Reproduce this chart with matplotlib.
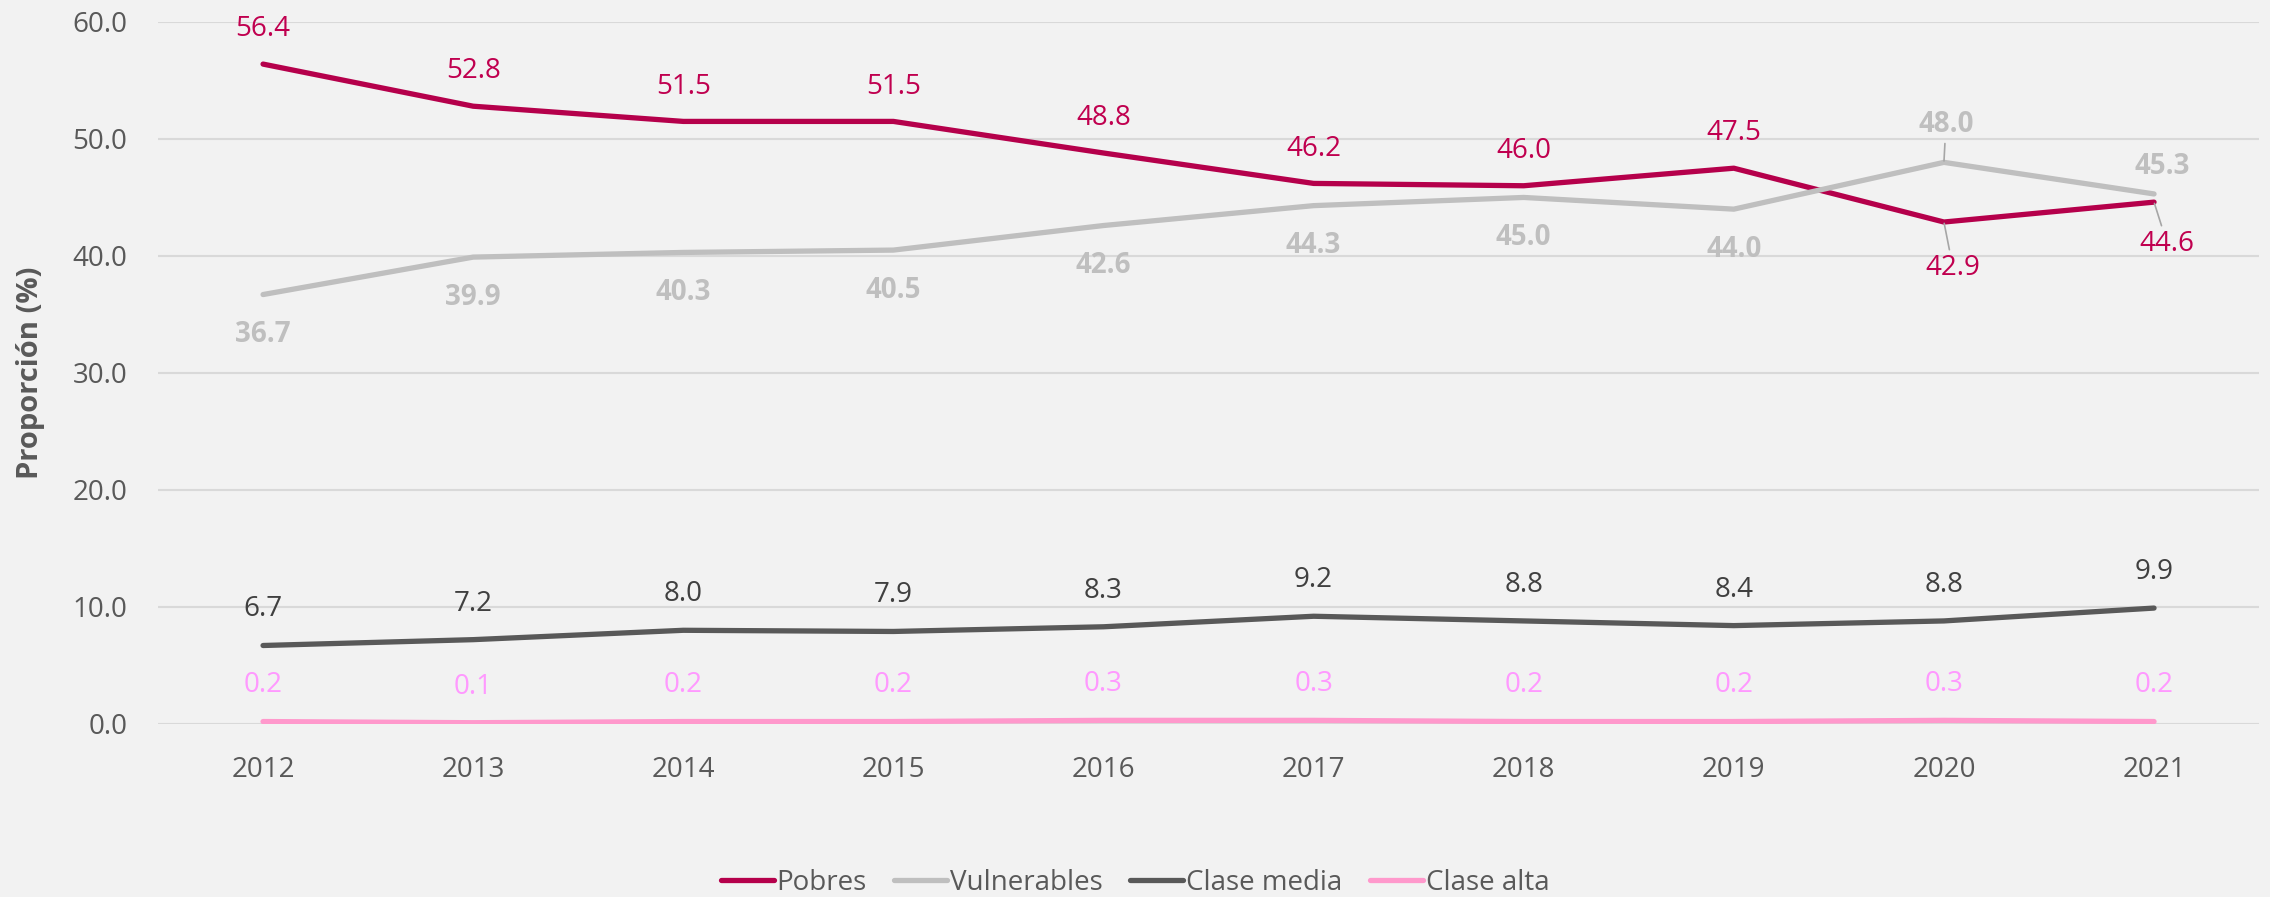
import numpy as np
import matplotlib
matplotlib.use("Agg")
import matplotlib.pyplot as plt

plt.rcParams['font.family'] = ['Open Sans', 'DejaVu Sans']

years = ['2012', '2013', '2014', '2015', '2016', '2017', '2018', '2019', '2020', '2021']
pobres = [56.4, 52.8, 51.5, 51.5, 48.8, 46.2, 46.0, 47.5, 42.9, 44.6]
vulnerables = [36.7, 39.9, 40.3, 40.5, 42.6, 44.3, 45.0, 44.0, 48.0, 45.3]
clase_media = [6.7, 7.2, 8.0, 7.9, 8.3, 9.2, 8.8, 8.4, 8.8, 9.9]
clase_alta = [0.2, 0.1, 0.2, 0.2, 0.3, 0.3, 0.2, 0.2, 0.3, 0.2]

BG = '#F2F2F2'
GRID = '#D9D9D9'
TXT = '#595959'
FS = 20

fig = plt.figure(figsize=(22.7, 8.97), dpi=100, facecolor=BG)
ax = fig.add_axes([0.0696, 0.193, 0.9256, 0.7825])
ax.set_facecolor(BG)

x = np.arange(len(years))

series = [
    ('Pobres', pobres, '#B5004B', '#C0004F', 'normal'),
    ('Vulnerables', vulnerables, '#BFBFBF', '#BFBFBF', 'bold'),
    ('Clase media', clase_media, '#595959', '#404040', 'normal'),
    ('Clase alta', clase_alta, '#FF99CC', '#FF99FF', 'normal'),
]
for name, vals, col, _, _ in series:
    ax.plot(x, vals, color=col, lw=3.8, solid_capstyle='round',
            solid_joinstyle='round', label=name, zorder=3)

# default label offsets (points) per series, with a few moved labels
offsets = {
    'Pobres': [(0, 25)] * 8 + [(6.5, -33), (9.5, -30)],
    'Vulnerables': [(0, -29)] * 8 + [(1.4, 27), (6, 20)],
    'Clase media': [(0, 26)] * 10,
    'Clase alta': [(0, 26)] * 10,
}
leaders = {('Pobres', 8), ('Pobres', 9), ('Vulnerables', 8)}

for name, vals, _, tcol, weight in series:
    for i, v in enumerate(vals):
        dx, dy = offsets[name][i]
        kw = {}
        if (name, i) in leaders:
            kw['arrowprops'] = dict(arrowstyle='-', color='#A6A6A6', lw=1.2,
                                    shrinkA=-1, shrinkB=1)
        ax.annotate(f'{v:.1f}', (i, v), xytext=(dx, dy), textcoords='offset points',
                    ha='center', va='center', fontsize=FS, color=tcol,
                    fontweight=weight, zorder=4, **kw)

ax.set_xlim(-0.5, len(years) - 0.5)
ax.set_ylim(0, 60)
ax.set_yticks(np.arange(0, 61, 10))
ax.set_yticklabels([f'{t:.1f}' for t in np.arange(0, 61, 10)])
ax.set_xticks(x)
ax.set_xticklabels(years)
ax.tick_params(axis='both', length=0, labelsize=FS, labelcolor=TXT)
ax.tick_params(axis='y', pad=22)
ax.tick_params(axis='x', pad=23)
ax.grid(axis='y', color=GRID, lw=1.5)
ax.set_axisbelow(True)
for s in ax.spines.values():
    s.set_visible(False)

ax.set_ylabel('Proporción (%)', fontsize=21, fontweight='bold', color=TXT)
ax.yaxis.set_label_coords(-0.054, 0.5)

fig.legend(loc='center', bbox_to_anchor=(0.5, 0.016), ncol=4, frameon=False,
           fontsize=FS, labelcolor=TXT, handlelength=1.9, handletextpad=0.1,
           columnspacing=1.0)

fig.savefig('out.png', dpi=100, facecolor=BG)
